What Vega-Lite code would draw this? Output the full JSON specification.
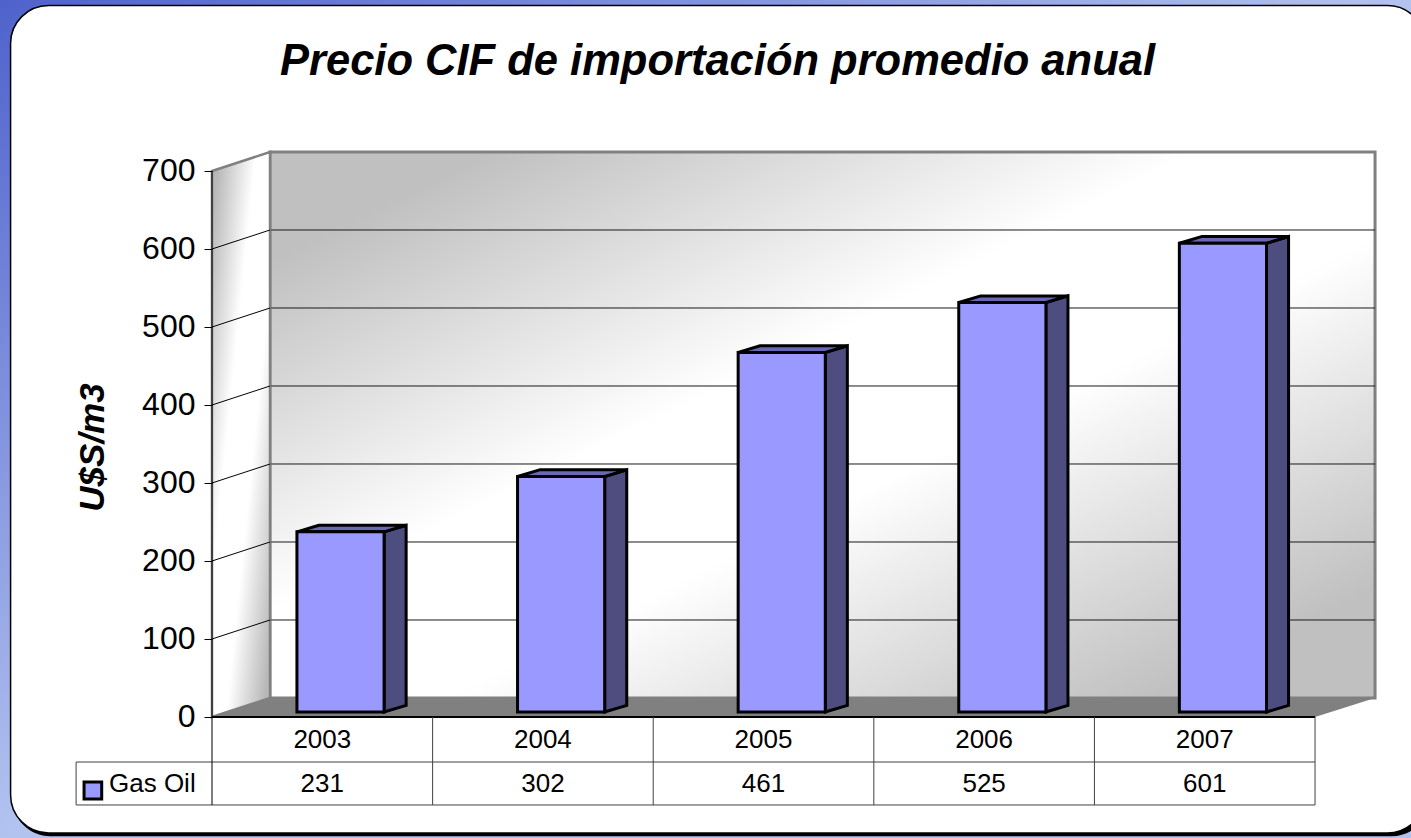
{
"$schema":"https://vega.github.io/schema/vega-lite/v6.json",
"width":1411,"height":838,"padding":0,"autosize":{"type":"none"},
"background":"#ffffff",
"config":{"view":{"stroke":null},"font":"Liberation Sans"},
"title":{"text":"Precio CIF de importación promedio anual","font":"Liberation Sans","fontSize":43.5,"fontStyle":"italic","fontWeight":"bold","color":"#000000","frame":"group","anchor":"middle","baseline":"alphabetic","offset":-118,"dx":12},
"datasets":{
 "gas":[{"year":2003,"gas_oil":231},{"year":2004,"gas_oil":302},{"year":2005,"gas_oil":461},{"year":2006,"gas_oil":525},{"year":2007,"gas_oil":601}],
 "ticks":[{"tick":100},{"tick":200},{"tick":300},{"tick":400},{"tick":500},{"tick":600}],
 "one":[{"row":1}]
},
"data":{"name":"gas"},
"layer":[
{"data":{"name":"one"},"mark":{"type":"rect","color":{"gradient":"linear","x1":0,"y1":0,"x2":1,"y2":1,"stops":[{"offset":0,"color":"#4f62cc"},{"offset":0.5,"color":"#b3c3f0"},{"offset":1,"color":"#b3c3f0"}]}},
 "encoding":{"x":{"datum":2001.539,"type":"quantitative","scale":{"domain":[2001.539,2007.935],"nice":false,"zero":false},"axis":null},"x2":{"datum":2007.935},
 "y":{"datum":919.23,"type":"quantitative","scale":{"domain":[-155.13,919.23],"nice":false,"zero":false},"axis":{"values":[0,100,200,300,400,500,600,700],"offset":-212,"domain":false,"grid":false,"zindex":2,"tickColor":"#000000","tickSize":8,"tickWidth":1,"labelFontSize":32,"labelColor":"#000000","labelFont":"Liberation Sans","labelPadding":9,"title":"U$S/m3","titleFont":"Liberation Sans","titleFontSize":35,"titleFontStyle":"italic","titleFontWeight":"bold","titleColor":"#000000","titleX":-120,"titleY":447,"titleAngle":270,"titleBaseline":"middle","titleAlign":"center"}},"y2":{"datum":-155.13}}},
{"data":{"name":"one"},"mark":{"type":"rect","color":"#000000","cornerRadius":38},
 "encoding":{"x":{"datum":2001.595,"type":"quantitative"},"x2":{"datum":2008.02},"y":{"datum":909,"type":"quantitative"},"y2":{"datum":-152.8}}},
{"data":{"name":"one"},"mark":{"type":"rect","fill":"#ffffff","stroke":"#000000","strokeWidth":1.5,"cornerRadius":38},
 "encoding":{"x":{"datum":2001.587,"type":"quantitative"},"x2":{"datum":2008.0},"y":{"datum":912.2,"type":"quantitative"},"y2":{"datum":-148.7}}},
{"data":{"name":"one"},"mark":{"type":"rect","stroke":"#808080","strokeWidth":3,"color":{"gradient":"linear","x1":0,"y1":0,"x2":1,"y2":1,"stops":[{"offset":0,"color":"#c0c0c0"},{"offset":0.1,"color":"#c0c0c0"},{"offset":0.42,"color":"#ffffff"},{"offset":0.58,"color":"#ffffff"},{"offset":0.9,"color":"#c0c0c0"},{"offset":1,"color":"#c0c0c0"}]}},
 "encoding":{"x":{"datum":2002.763,"type":"quantitative"},"x2":{"datum":2007.772},"y":{"datum":724.36,"type":"quantitative"},"y2":{"datum":24.36}}},
{"data":{"name":"ticks"},"transform":[{"calculate":"datum.tick+24.36","as":"back"}],"mark":{"type":"rule","color":"#1a1a1a","strokeWidth":1},
 "encoding":{"x":{"datum":2002.763,"type":"quantitative"},"x2":{"datum":2007.772},"y":{"field":"back","type":"quantitative"}}},
{"data":{"name":"one"},"transform":[{"calculate":"[0,1]","as":"d"},{"flatten":["d"]},{"calculate":"2002.5+datum.d*0.263","as":"x"},{"calculate":"datum.d*24.36","as":"lo"},{"calculate":"700+datum.d*24.36","as":"hi"}],
 "mark":{"type":"area","orient":"vertical","stroke":"#808080","strokeWidth":2.5,"color":{"gradient":"linear","x1":0,"y1":0,"x2":1,"y2":1,"stops":[{"offset":0,"color":"#b8b8b8"},{"offset":0.06,"color":"#b8b8b8"},{"offset":0.38,"color":"#ffffff"},{"offset":0.62,"color":"#ffffff"},{"offset":0.94,"color":"#b8b8b8"},{"offset":1,"color":"#b8b8b8"}]}},
 "encoding":{"x":{"field":"x","type":"quantitative"},"y":{"field":"hi","type":"quantitative"},"y2":{"field":"lo"}}},
{"data":{"name":"ticks"},"transform":[{"calculate":"datum.tick+24.36","as":"back"}],"mark":{"type":"rule","color":"#000000","strokeWidth":1},
 "encoding":{"x":{"datum":2002.5,"type":"quantitative"},"x2":{"datum":2002.763},"y":{"field":"tick","type":"quantitative"},"y2":{"field":"back"}}},
{"data":{"name":"one"},"mark":{"type":"rule","color":"#000000","strokeWidth":1},
 "encoding":{"x":{"datum":2002.5,"type":"quantitative"},"y":{"datum":700,"type":"quantitative"},"y2":{"datum":0}}},
{"data":{"name":"one"},"transform":[{"calculate":"[0,1]","as":"d"},{"flatten":["d"]},{"calculate":"2002.5+datum.d*0.263","as":"x"},{"calculate":"2007.5+datum.d*0.272","as":"x2"},{"calculate":"datum.d*24.36","as":"lv"}],
 "mark":{"type":"area","orient":"horizontal","color":"#808080"},
 "encoding":{"y":{"field":"lv","type":"quantitative"},"x":{"field":"x","type":"quantitative"},"x2":{"field":"x2"}}},
{"transform":[{"calculate":"[0,1]","as":"d"},{"flatten":["d"]},{"calculate":"datum.year+0.28+datum.d*0.1","as":"x"},{"calculate":"6.4+datum.d*8.5","as":"lo"},{"calculate":"datum.gas_oil+6.4+datum.d*8.5","as":"hi"}],
 "mark":{"type":"area","orient":"vertical","color":"#4d4d80","stroke":"#000000","strokeWidth":3,"strokeJoin":"miter"},
 "encoding":{"x":{"field":"x","type":"quantitative"},"y":{"field":"hi","type":"quantitative"},"y2":{"field":"lo"},"detail":{"field":"year","type":"nominal"}}},
{"transform":[{"calculate":"[0,1]","as":"d"},{"flatten":["d"]},{"calculate":"datum.year-0.115+datum.d*0.1","as":"x"},{"calculate":"datum.year+0.28+datum.d*0.1","as":"x2"},{"calculate":"datum.gas_oil+6.4+datum.d*8.5","as":"lv"}],
 "mark":{"type":"area","orient":"horizontal","color":"#6868b4","stroke":"#000000","strokeWidth":3,"strokeJoin":"miter"},
 "encoding":{"y":{"field":"lv","type":"quantitative"},"x":{"field":"x","type":"quantitative"},"x2":{"field":"x2"},"detail":{"field":"year","type":"nominal"}}},
{"transform":[{"calculate":"datum.year-0.115","as":"left"},{"calculate":"datum.year+0.28","as":"right"},{"calculate":"datum.gas_oil+6.4","as":"top"},{"calculate":"6.4","as":"base"}],
 "mark":{"type":"rect","color":"#9999ff","stroke":"#000000","strokeWidth":3},
 "encoding":{"x":{"field":"left","type":"quantitative"},"x2":{"field":"right"},"y":{"field":"top","type":"quantitative"},"y2":{"field":"base"}}},
{"data":{"name":"one"},"mark":{"type":"rule","color":"#000000","strokeWidth":2},
 "encoding":{"x":{"datum":2002.5,"type":"quantitative"},"x2":{"datum":2007.5},"y":{"datum":0,"type":"quantitative"}}},
{"data":{"name":"one"},"mark":{"type":"rule","color":"#404040","strokeWidth":1},
 "encoding":{"x":{"datum":2001.884,"type":"quantitative"},"x2":{"datum":2007.5},"y":{"datum":-57.7,"type":"quantitative"}}},
{"data":{"name":"one"},"mark":{"type":"rule","color":"#404040","strokeWidth":1},
 "encoding":{"x":{"datum":2001.884,"type":"quantitative"},"x2":{"datum":2007.5},"y":{"datum":-112.8,"type":"quantitative"}}},
{"data":{"name":"one"},"mark":{"type":"rule","color":"#404040","strokeWidth":1},
 "encoding":{"x":{"datum":2001.884,"type":"quantitative"},"y":{"datum":-57.7,"type":"quantitative"},"y2":{"datum":-112.8}}},
{"data":{"name":"one"},"mark":{"type":"rule","color":"#000000","strokeWidth":1},
 "encoding":{"x":{"datum":2002.5,"type":"quantitative"},"y":{"datum":0,"type":"quantitative"},"y2":{"datum":-112.8}}},
{"transform":[{"calculate":"datum.year+0.5","as":"edge"}],"mark":{"type":"rule","color":"#404040","strokeWidth":1},
 "encoding":{"x":{"field":"edge","type":"quantitative"},"y":{"datum":0,"type":"quantitative"},"y2":{"datum":-112.8}}},
{"data":{"name":"one"},"mark":{"type":"rect","color":"#9999ff","stroke":"#000000","strokeWidth":3},
 "encoding":{"x":{"datum":2001.92,"type":"quantitative"},"x2":{"datum":2002.0},"y":{"datum":-83.3,"type":"quantitative"},"y2":{"datum":-105.1}}},
{"data":{"name":"one"},"mark":{"type":"text","align":"left","baseline":"middle","fontSize":26,"color":"#000000","font":"Liberation Sans"},
 "encoding":{"x":{"datum":2002.033,"type":"quantitative"},"y":{"datum":-86,"type":"quantitative"},"text":{"value":"Gas Oil"}}},
{"mark":{"type":"text","align":"center","baseline":"middle","fontSize":26,"color":"#000000","font":"Liberation Sans"},
 "encoding":{"x":{"field":"year","type":"quantitative"},"y":{"datum":-29.5,"type":"quantitative"},"text":{"field":"year","type":"nominal"}}},
{"mark":{"type":"text","align":"center","baseline":"middle","fontSize":26,"color":"#000000","font":"Liberation Sans"},
 "encoding":{"x":{"field":"year","type":"quantitative"},"y":{"datum":-86,"type":"quantitative"},"text":{"field":"gas_oil","type":"nominal"}}}
]
}
